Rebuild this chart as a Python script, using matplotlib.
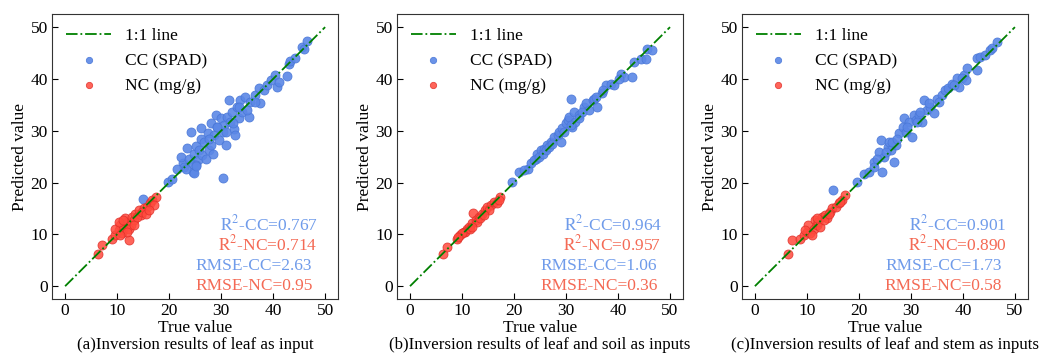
import numpy as np
import matplotlib.pyplot as plt

plt.rcParams['font.family'] = ['Liberation Serif', 'DejaVu Serif']
plt.rcParams['mathtext.fontset'] = 'stix'

# ---- panel (a): leaf as input ----
a_cc_true = [19.7, 20.6, 22.6, 22.2, 22.9, 23.5, 23.8, 24.2, 24.5, 24.5, 24.8, 25.2, 25.5, 25.8, 26.1,
             26.1, 26.4, 26.8, 27.1, 27.4, 27.7, 28.0, 28.0, 28.4, 28.7, 29.0, 29.3, 29.6, 30.0, 30.3,
             30.4, 30.6, 30.9, 31.2, 31.5, 31.8, 32.1, 32.4, 32.7, 33.1, 33.4, 33.7, 34.0, 34.6, 35.3,
             35.6, 36.6, 37.2, 37.5, 38.2, 38.8, 39.5, 40.4, 40.8, 41.1, 42.7, 43.0, 43.3, 44.3, 45.6,
             45.9, 46.5, 23.2, 25.2, 27.7, 30.9, 33.4, 35.0, 36.6, 21.6, 24.7, 25.2, 29.3, 32.2, 15.0]
a_cc_pred = [20.1, 20.7, 23.7, 25.0, 23.0, 26.6, 24.6, 29.8, 22.0, 23.6, 25.5, 27.1, 24.3, 26.2, 30.5,
             28.5, 25.3, 27.9, 24.6, 29.5, 26.2, 27.2, 31.4, 25.6, 29.2, 33.1, 30.8, 28.2, 32.4, 29.8,
             20.8, 31.1, 27.2, 32.7, 35.9, 31.7, 33.7, 30.4, 29.2, 34.6, 32.4, 35.9, 33.7, 36.5, 32.7,
             35.6, 36.9, 38.2, 35.3, 37.9, 38.8, 39.8, 40.8, 38.5, 39.5, 40.5, 42.8, 43.5, 44.1, 46.1,
             45.8, 47.3, 22.7, 23.4, 28.5, 29.8, 34.6, 34.0, 35.6, 22.7, 21.8, 23.1, 30.8, 31.4, 16.9]
a_nc_true = [6.3, 7.1, 9.0, 9.6, 12.2, 10.3, 10.6, 11.2, 11.9, 11.6, 12.6, 12.9, 13.2, 13.5, 14.2,
             14.5, 15.1, 15.8, 16.4, 16.7, 17.4, 9.6, 10.9, 10.3, 12.2, 11.2, 13.2, 13.9, 14.8, 15.5,
             17.0, 16.1, 11.9, 10.6]
a_nc_pred = [6.2, 7.9, 9.2, 9.8, 8.9, 10.8, 11.8, 11.1, 12.4, 13.1, 11.8, 13.4, 12.8, 14.0, 14.7,
             13.7, 15.0, 15.3, 16.0, 16.6, 17.2, 11.1, 10.2, 12.4, 11.1, 12.8, 11.8, 13.4, 14.3, 14.0,
             15.6, 14.7, 10.5, 9.8]

# ---- panel (b): leaf and soil as inputs ----
b_cc_true = [19.7, 21.0, 22.6, 23.2, 24.2, 24.5, 25.2, 25.8, 26.4, 27.1, 27.7, 28.4, 28.7, 29.0, 29.3,
             30.0, 30.3, 30.6, 30.9, 31.2, 31.5, 31.8, 32.5, 33.4, 33.8, 34.4, 35.1, 35.4, 36.0, 37.0,
             37.6, 38.6, 39.2, 40.5, 41.1, 42.7, 43.1, 44.4, 45.3, 45.6, 46.6, 22.0, 23.8, 24.8, 25.5,
             26.1, 26.8, 27.4, 29.6, 30.9, 32.5, 33.1, 35.7, 37.2, 40.2]
b_cc_pred = [20.1, 22.1, 22.7, 23.7, 24.6, 25.6, 26.2, 26.5, 27.2, 27.8, 28.8, 29.2, 29.8, 27.8, 30.5,
             31.4, 32.1, 32.7, 36.2, 30.8, 33.7, 31.7, 33.0, 34.6, 35.3, 34.0, 35.9, 36.2, 34.6, 37.2,
             38.8, 39.1, 38.8, 41.0, 40.3, 40.3, 43.2, 43.8, 43.8, 45.8, 45.5, 22.4, 24.3, 24.9, 25.6,
             26.2, 26.9, 27.5, 29.8, 31.1, 32.4, 33.7, 36.5, 37.9, 40.0]
b_nc_true = [6.3, 7.1, 9.0, 9.6, 10.3, 10.9, 11.3, 11.9, 12.2, 12.6, 13.2, 13.9, 14.5, 14.8, 15.5,
             16.1, 16.7, 17.4, 10.6, 11.6, 10.0, 12.9, 13.5, 15.1, 17.1, 9.3, 11.9, 14.2]
b_nc_pred = [6.3, 7.6, 9.2, 9.8, 10.5, 11.1, 11.5, 12.1, 14.2, 12.7, 13.4, 14.0, 14.7, 15.3, 15.6,
             16.3, 16.0, 17.2, 10.5, 11.1, 10.2, 12.4, 13.1, 14.7, 16.6, 9.5, 11.5, 13.7]

# ---- panel (c): leaf and stem as inputs ----
c_cc_true = [19.7, 21.0, 21.9, 22.9, 22.9, 23.8, 24.2, 24.5, 24.8, 25.5, 25.8, 26.1, 26.8, 27.1, 27.7,
             28.4, 28.7, 29.0, 29.6, 30.3, 30.6, 30.9, 31.5, 32.1, 32.5, 33.1, 33.7, 34.4, 35.0, 36.0,
             36.6, 37.2, 37.9, 38.8, 39.2, 40.2, 40.8, 42.7, 42.7, 43.3, 44.3, 45.3, 45.6, 46.6, 23.5,
             25.2, 26.4, 27.4, 29.3, 31.2, 31.8, 33.4, 35.4, 38.2, 39.9, 40.5, 15.0]
c_cc_pred = [20.1, 21.7, 22.0, 24.0, 23.0, 25.9, 28.2, 22.0, 25.0, 26.9, 27.9, 26.2, 24.0, 27.2, 29.5,
             30.8, 32.4, 29.8, 31.7, 28.8, 33.1, 32.1, 33.1, 31.7, 35.9, 34.0, 34.6, 33.4, 36.2, 36.9,
             37.9, 38.2, 39.1, 40.1, 38.5, 40.8, 42.1, 41.8, 44.0, 44.3, 44.6, 45.6, 45.9, 47.2, 24.6,
             25.9, 27.8, 28.5, 30.8, 31.7, 33.7, 35.3, 35.6, 38.8, 40.1, 39.8, 18.5]
c_nc_true = [6.3, 7.1, 8.7, 9.4, 10.0, 10.3, 10.6, 11.3, 11.6, 11.9, 12.2, 12.6, 12.9, 13.5, 13.9,
             14.5, 14.8, 15.5, 16.1, 16.7, 17.4, 10.9, 13.2, 14.2, 16.4, 11.9, 9.7]
c_nc_pred = [6.3, 8.9, 9.2, 9.8, 10.5, 11.8, 10.2, 11.1, 12.7, 11.8, 12.4, 11.5, 13.4, 13.7, 13.1,
             14.3, 15.0, 15.3, 16.0, 16.6, 17.6, 9.8, 12.8, 14.0, 16.3, 13.1, 10.8]

r2_cc = ['0.767', '0.964', '0.901']
r2_nc = ['0.714', '0.957', '0.890']
rmse_cc = ['2.63', '1.06', '1.73']
rmse_nc = ['0.95', '0.36', '0.58']
subtitles = ['(a)Inversion results of leaf as input',
             '(b)Inversion results of leaf and soil as inputs',
             '(c)Inversion results of leaf and stem as inputs']

panels = [(a_cc_true, a_cc_pred, a_nc_true, a_nc_pred),
          (b_cc_true, b_cc_pred, b_nc_true, b_nc_pred),
          (c_cc_true, c_cc_pred, c_nc_true, c_nc_pred)]

blue = '#5b87e6'
red = '#ff4a3d'
blue_txt = '#6f9bea'
red_txt = '#f46a55'
fs = 12.5

fig = plt.figure(figsize=(10.42, 3.54), dpi=100)
lefts = [0.050, 0.381, 0.712]

for i, (cct, ccp, nct, ncp) in enumerate(panels):
    ax = fig.add_axes([lefts[i], 0.155, 0.2745, 0.805])
    ax.plot([0, 50], [0, 50], color='green', linestyle='-.', linewidth=1.3, label='1:1 line', zorder=3)
    ax.scatter(cct, ccp, s=42, color=blue, edgecolor='#4a78d8', linewidth=0.6, alpha=0.9,
               label='CC (SPAD)', zorder=2)
    ax.scatter(nct, ncp, s=42, color=red, edgecolor='#e0302a', linewidth=0.6, alpha=0.85,
               label='NC (mg/g)', zorder=2)
    ax.set_xlim(-2.5, 52.5)
    ax.set_ylim(-2.5, 52.5)
    ax.set_xticks([0, 10, 20, 30, 40, 50])
    ax.set_yticks([0, 10, 20, 30, 40, 50])
    ax.tick_params(direction='in', labelsize=12.5, length=4, pad=3)
    for sp in ax.spines.values():
        sp.set_color('#333333')
    ax.set_xlabel('True value', fontsize=fs, labelpad=0.5)
    ax.set_ylabel('Predicted value', fontsize=fs, labelpad=2)
    # subtitle pinned to the bottom of the figure, centred under the axes
    cx = lefts[i] + 0.2745 / 2
    fig.text(cx, 0.002, subtitles[i], ha='center', va='bottom', fontsize=12.2)
    ax.legend(loc='upper left', frameon=False, fontsize=fs, markerscale=0.7,
              handlelength=2.6, borderaxespad=0.4)
    ax.text(29.7, 12.0, '$\\mathrm{R^2}$-CC=' + r2_cc[i], color=blue_txt, fontsize=fs, va='center')
    ax.text(29.4, 8.1, '$\\mathrm{R^2}$-NC=' + r2_nc[i], color=red_txt, fontsize=fs, va='center')
    ax.text(25.1, 3.9, 'RMSE-CC=' + rmse_cc[i], color=blue_txt, fontsize=fs, va='center')
    ax.text(25.0, 0.0, 'RMSE-NC=' + rmse_nc[i], color=red_txt, fontsize=fs, va='center')

fig.savefig('out.png', dpi=100)
